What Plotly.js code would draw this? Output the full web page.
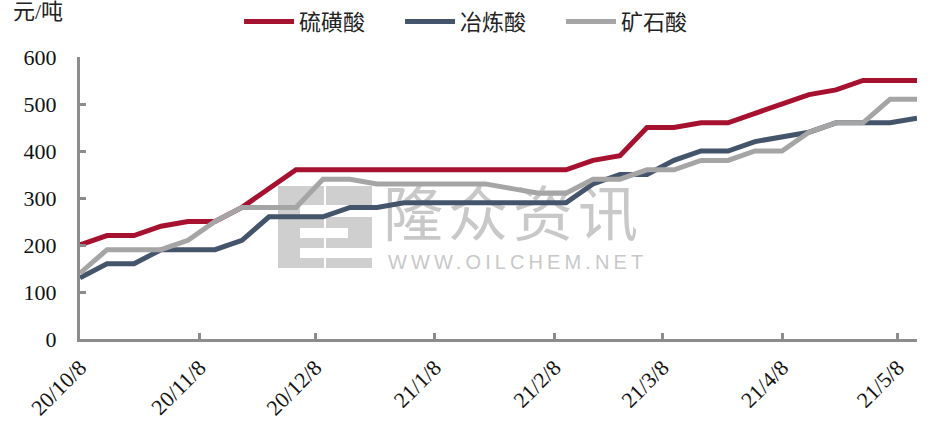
<!DOCTYPE html>
<html>
<head>
<meta charset="utf-8">
<script src="https://cdn.plot.ly/plotly-3.0.1.min.js"></script>
<style>
  html, body { margin: 0; padding: 0; background: #fff; }
  #wrap { position: relative; width: 930px; height: 430px; }
  #wm { position: absolute; left: 0; top: 0; width: 930px; height: 430px; z-index: 0; }
  #chart { position: absolute; left: 0; top: 0; width: 930px; height: 430px; z-index: 1; }
  .logo { position: absolute; background: #cfcfcf; }
  .bar { position: absolute; background: #fff; }
  .wmtext { position: absolute; color: #c8c8c8; font-family: "Liberation Sans", "Noto Sans CJK SC", sans-serif; white-space: nowrap; line-height: 1; }
</style>
</head>
<body>
<div id="wrap">
  <div id="wm">
    <div class="logo" style="left:278px; top:186px; width:94px; height:82px;"></div>
    <div class="bar" style="left:324px; top:186px; width:2px; height:82px;"></div>
    <div class="bar" style="left:300px; top:205px; width:72px; height:12px;"></div>
    <div class="bar" style="left:300px; top:228px; width:48px; height:10px;"></div>
    <div class="bar" style="left:300px; top:248px; width:72px; height:10px;"></div>
    <div class="wmtext" style="left:383px; top:186px; font-size:60px; font-weight:400; letter-spacing:5px;">隆众资讯</div>
    <div class="wmtext" style="left:388px; top:252px; font-size:20px; letter-spacing:4.1px;">WWW.OILCHEM.NET</div>
  </div>
  <div id="chart"></div>
</div>
<script>
// Weekly dates (Thursdays)
var dates = [
  "2020-10-08","2020-10-15","2020-10-22","2020-10-29",
  "2020-11-05","2020-11-12","2020-11-19","2020-11-26",
  "2020-12-03","2020-12-10","2020-12-17","2020-12-24","2020-12-31",
  "2021-01-07","2021-01-14","2021-01-21","2021-01-28",
  "2021-02-04","2021-02-11","2021-02-18","2021-02-25",
  "2021-03-04","2021-03-11","2021-03-18","2021-03-25",
  "2021-04-01","2021-04-08","2021-04-15","2021-04-22","2021-04-29",
  "2021-05-06","2021-05-13"
];
var sulfurAcid = [200,220,220,240,250,250,280,320,360,360,360,360,360,360,360,360,360,360,360,380,390,450,450,460,460,480,500,520,530,550,550,550];
var smeltAcid  = [130,160,160,190,190,190,210,260,260,260,280,280,290,290,290,290,290,290,290,330,350,350,380,400,400,420,430,440,460,460,460,470];
var oreAcid    = [140,190,190,190,210,250,280,280,280,340,340,330,330,330,330,330,320,310,310,340,340,360,360,380,380,400,400,440,460,460,510,510];

var seriesNames = ["硫磺酸","冶炼酸","矿石酸"];
var tickVals = ["2020-10-08","2020-11-08","2020-12-08","2021-01-08","2021-02-08","2021-03-08","2021-04-08","2021-05-08"];
var tickText = ["20/10/8","20/11/8","20/12/8","21/1/8","21/2/8","21/3/8","21/4/8","21/5/8"];
var yUnit = "元/吨";

var serif = "'Liberation Serif', 'Times New Roman', 'Noto Sans CJK SC', serif";

var traces = [
  {x: dates, y: sulfurAcid, name: seriesNames[0], type: "scatter", mode: "lines", line: {color: "#A6112F", width: 5}},
  {x: dates, y: smeltAcid,  name: seriesNames[1], type: "scatter", mode: "lines", line: {color: "#44546A", width: 5}},
  {x: dates, y: oreAcid,    name: seriesNames[2], type: "scatter", mode: "lines", line: {color: "#A5A5A5", width: 5}}
];

var layout = {
  width: 930, height: 430,
  margin: {l: 80, r: 13, t: 57, b: 91, autoexpand: false},
  paper_bgcolor: "rgba(0,0,0,0)",
  plot_bgcolor: "rgba(0,0,0,0)",
  showlegend: true,
  legend: {
    orientation: "h", x: 0.19, xanchor: "left", y: 1.2, yanchor: "top",
    font: {family: serif, size: 22, color: "#222"},
    itemwidth: 50, tracegroupgap: 0,
    entrywidth: 96, entrywidthmode: "pixels"
  },
  xaxis: {
    type: "date",
    range: ["2020-10-08", "2021-05-13"],
    tickvals: tickVals, ticktext: tickText,
    tickangle: -45,
    ticks: "inside", ticklen: 6, tickwidth: 3, tickcolor: "#8C8C8C",
    showline: true, linecolor: "#8C8C8C", linewidth: 3,
    showgrid: false, zeroline: false,
    tickfont: {family: serif, size: 22, color: "#111"},
    ticklabelstandoff: 4
  },
  yaxis: {
    range: [0, 600], dtick: 100, tick0: 0,
    ticks: "inside", ticklen: 6, tickwidth: 3, tickcolor: "#8C8C8C",
    showline: true, linecolor: "#8C8C8C", linewidth: 3,
    showgrid: false, zeroline: false,
    tickfont: {family: serif, size: 22, color: "#111"},
    ticklabelstandoff: 16
  },
  annotations: [
    {text: yUnit, xref: "paper", yref: "paper", x: -0.083, y: 1.16, xanchor: "left", yanchor: "middle",
     showarrow: false, font: {family: serif, size: 22, color: "#222"}}
  ]
};

Plotly.newPlot("chart", traces, layout, {displayModeBar: false, staticPlot: true});
</script>
</body>
</html>
